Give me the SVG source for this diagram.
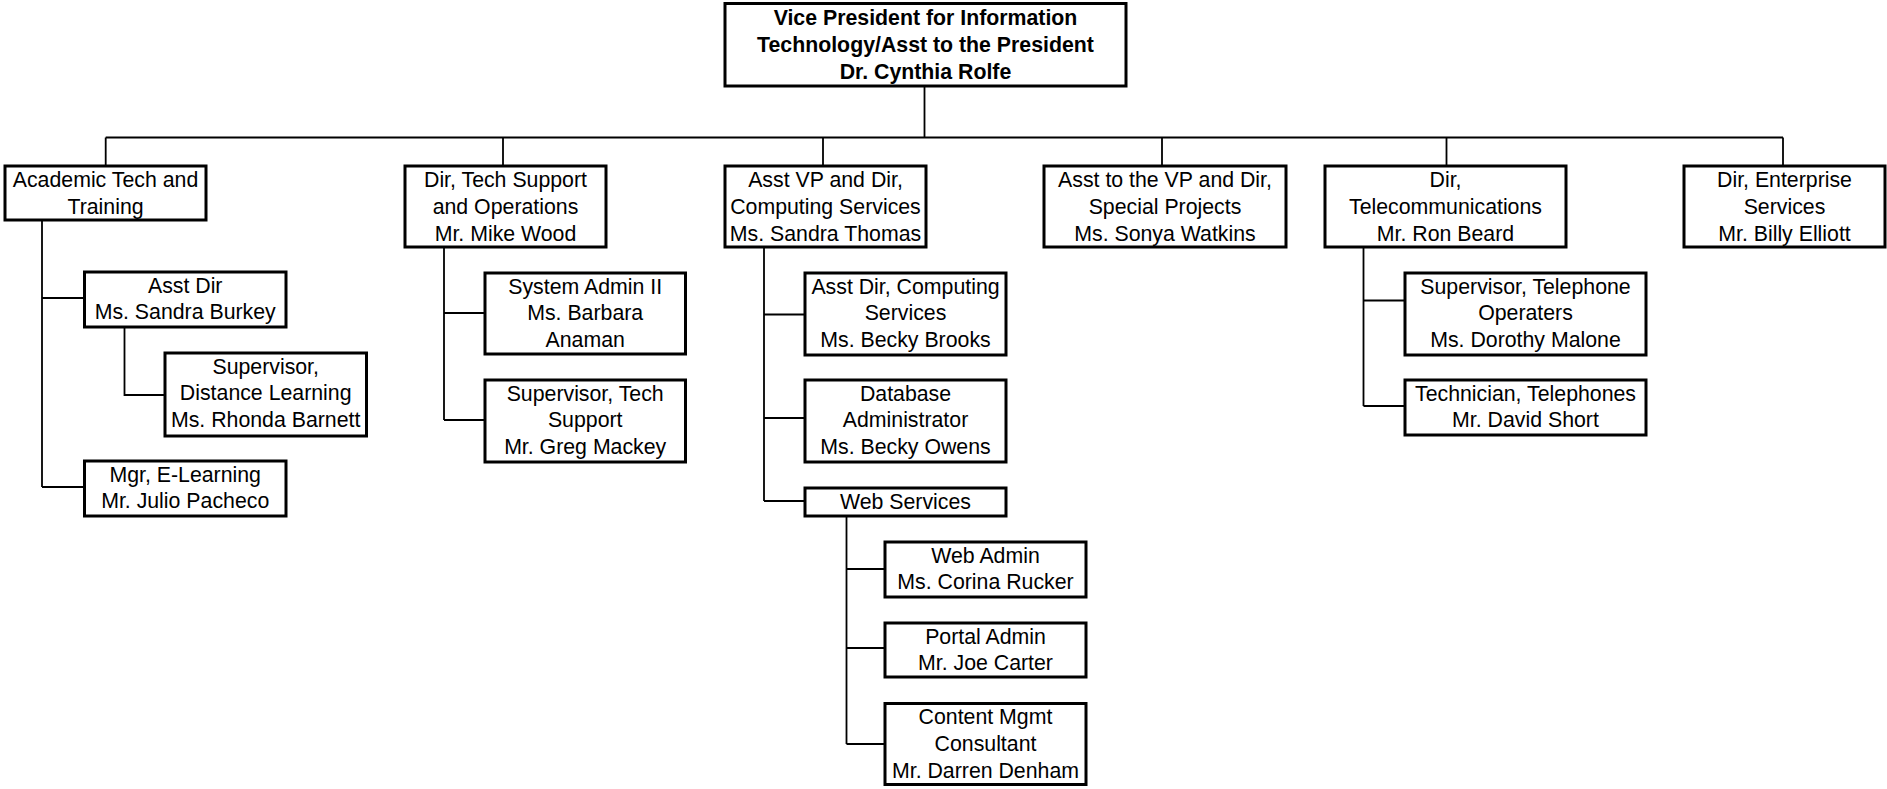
<svg xmlns="http://www.w3.org/2000/svg" width="1887" height="789" viewBox="0 0 1887 789">
<style>
rect.box{fill:#fff;stroke:#000;stroke-width:3}
text{font-family:"Liberation Sans",Arial,sans-serif;font-size:21.3px;text-anchor:middle;fill:#000}
text.b{font-weight:bold}
#connectors path{fill:none;stroke:#000;stroke-width:1.8}
</style>
<rect width="1887" height="789" fill="#fff"/>
<g id="connectors">
<path d="M924.5,86V137.5M105.7,137.5H1783M105.7,137.5V166M503,137.5V166M823,137.5V166M1162,137.5V166M1446.5,137.5V166M1783,137.5V166"/>
<path d="M42,220V487M42,298H84.5M42,487H84.5M124.5,327V395H165"/>
<path d="M444,247V420M444,313H485M444,420H485"/>
<path d="M764,247V501M764,314.5H805M764,418H805M764,501H805"/>
<path d="M846.5,516V744M846.5,569H885M846.5,648H885M846.5,744H885"/>
<path d="M1363.5,247V406M1363.5,300.5H1405M1363.5,406H1405"/>
</g>
<g id="vp"><rect class="box" x="725" y="3.5" width="401" height="82.5"/><text class="b" x="925.5"><tspan x="925.5" y="25">Vice President for Information</tspan><tspan x="925.5" y="52">Technology/Asst to the President</tspan><tspan x="925.5" y="79">Dr. Cynthia Rolfe</tspan></text></g>
<g id="academic"><rect class="box" x="5" y="166" width="201" height="54"/><text><tspan x="105.5" y="186.5">Academic Tech and</tspan><tspan x="105.5" y="213.5">Training</tspan></text></g>
<g id="techsupport"><rect class="box" x="405" y="166" width="201" height="81"/><text><tspan x="505.5" y="186.5">Dir, Tech Support</tspan><tspan x="505.5" y="213.5">and Operations</tspan><tspan x="505.5" y="240.5">Mr. Mike Wood</tspan></text></g>
<g id="computing"><rect class="box" x="725" y="166" width="201" height="81"/><text><tspan x="825.5" y="186.5">Asst VP and Dir,</tspan><tspan x="825.5" y="213.5">Computing Services</tspan><tspan x="825.5" y="240.5">Ms. Sandra Thomas</tspan></text></g>
<g id="special"><rect class="box" x="1044" y="166" width="242" height="81"/><text><tspan x="1165" y="186.5">Asst to the VP and Dir,</tspan><tspan x="1165" y="213.5">Special Projects</tspan><tspan x="1165" y="240.5">Ms. Sonya Watkins</tspan></text></g>
<g id="telecom"><rect class="box" x="1325" y="166" width="241" height="81"/><text><tspan x="1445.5" y="186.5">Dir,</tspan><tspan x="1445.5" y="213.5">Telecommunications</tspan><tspan x="1445.5" y="240.5">Mr. Ron Beard</tspan></text></g>
<g id="enterprise"><rect class="box" x="1684" y="166" width="201" height="81"/><text><tspan x="1784.5" y="186.5">Dir, Enterprise</tspan><tspan x="1784.5" y="213.5">Services</tspan><tspan x="1784.5" y="240.5">Mr. Billy Elliott</tspan></text></g>
<g id="asstdir"><rect class="box" x="84.5" y="272" width="201.5" height="55"/><text><tspan x="185.2" y="292.5">Asst Dir</tspan><tspan x="185.2" y="319.3">Ms. Sandra Burkey</tspan></text></g>
<g id="distance"><rect class="box" x="165" y="353" width="201.5" height="83"/><text><tspan x="265.7" y="373.5">Supervisor,</tspan><tspan x="265.7" y="400.3">Distance Learning</tspan><tspan x="265.7" y="427.1">Ms. Rhonda Barnett</tspan></text></g>
<g id="elearning"><rect class="box" x="84.5" y="461" width="201.5" height="55"/><text><tspan x="185.2" y="481.5">Mgr, E-Learning</tspan><tspan x="185.2" y="508.3">Mr. Julio Pacheco</tspan></text></g>
<g id="sysadmin"><rect class="box" x="485" y="273" width="200.5" height="81"/><text><tspan x="585.2" y="293.5">System Admin II</tspan><tspan x="585.2" y="320.3">Ms. Barbara</tspan><tspan x="585.2" y="347.1">Anaman</tspan></text></g>
<g id="techsup"><rect class="box" x="485" y="380" width="200.5" height="82"/><text><tspan x="585.2" y="400.5">Supervisor, Tech</tspan><tspan x="585.2" y="427.3">Support</tspan><tspan x="585.2" y="454.1">Mr. Greg Mackey</tspan></text></g>
<g id="asstdircomp"><rect class="box" x="805" y="273" width="201" height="82"/><text><tspan x="905.5" y="293.5">Asst Dir, Computing</tspan><tspan x="905.5" y="320.3">Services</tspan><tspan x="905.5" y="347.1">Ms. Becky Brooks</tspan></text></g>
<g id="dba"><rect class="box" x="805" y="380" width="201" height="82"/><text><tspan x="905.5" y="400.5">Database</tspan><tspan x="905.5" y="427.3">Administrator</tspan><tspan x="905.5" y="454.1">Ms. Becky Owens</tspan></text></g>
<g id="web"><rect class="box" x="805" y="488" width="201" height="28"/><text><tspan x="905.5" y="508.5">Web Services</tspan></text></g>
<g id="webadmin"><rect class="box" x="885" y="542" width="201" height="55"/><text><tspan x="985.5" y="562.5">Web Admin</tspan><tspan x="985.5" y="589.3">Ms. Corina Rucker</tspan></text></g>
<g id="portal"><rect class="box" x="885" y="623" width="201" height="54"/><text><tspan x="985.5" y="643.5">Portal Admin</tspan><tspan x="985.5" y="670.3">Mr. Joe Carter</tspan></text></g>
<g id="content"><rect class="box" x="885" y="703.5" width="201" height="81"/><text><tspan x="985.5" y="724">Content Mgmt</tspan><tspan x="985.5" y="750.8">Consultant</tspan><tspan x="985.5" y="777.6">Mr. Darren Denham</tspan></text></g>
<g id="telephone"><rect class="box" x="1405" y="273" width="241" height="82"/><text><tspan x="1525.5" y="293.5">Supervisor, Telephone</tspan><tspan x="1525.5" y="320.3">Operaters</tspan><tspan x="1525.5" y="347.1">Ms. Dorothy Malone</tspan></text></g>
<g id="technician"><rect class="box" x="1405" y="380" width="241" height="55"/><text><tspan x="1525.5" y="400.5">Technician, Telephones</tspan><tspan x="1525.5" y="427.3">Mr. David Short</tspan></text></g>
</svg>
